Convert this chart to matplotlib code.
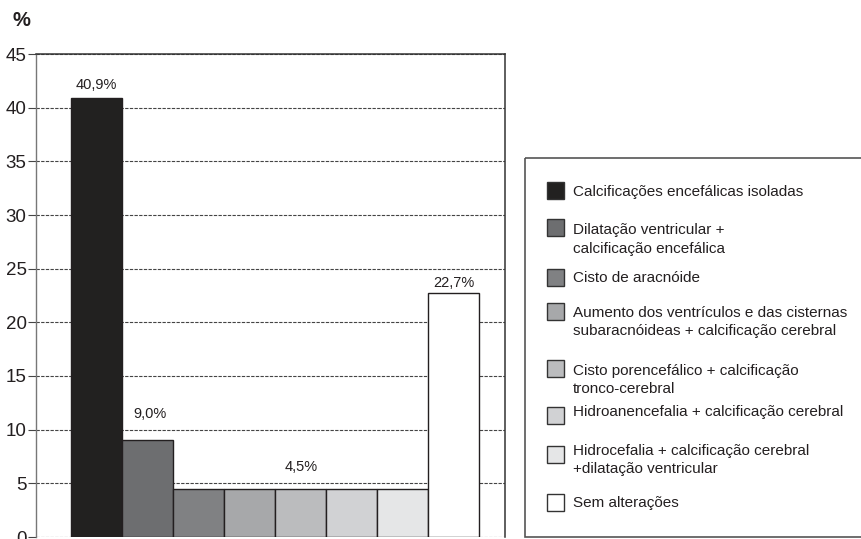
import matplotlib
matplotlib.use('Agg')
import matplotlib.pyplot as plt
from matplotlib.patches import Rectangle

plt.rcParams['font.family'] = ['Liberation Sans', 'DejaVu Sans']

# ---- data ----
categories = [
    'Calcificações encefálicas isoladas',
    'Dilatação ventricular +\ncalcificação encefálica',
    'Cisto de aracnóide',
    'Aumento dos ventrículos e das cisternas\nsubaracnóideas + calcificação cerebral',
    'Cisto porencefálico + calcificação\ntronco-cerebral',
    'Hidroanencefalia + calcificação cerebral',
    'Hidrocefalia + calcificação cerebral\n+dilatação ventricular',
    'Sem alterações',
]
values = [40.9, 9.0, 4.5, 4.5, 4.5, 4.5, 4.5, 22.7]
colors = ['#222120', '#6d6e70', '#808183', '#a7a8aa',
          '#bbbcbe', '#d1d2d4', '#e5e6e7', '#ffffff']
bar_labels = ['40,9%', '9,0%', '4,5%', '22,7%']
bar_label_idx = [0, 1, 4, 7]
yticks = [0, 5, 10, 15, 20, 25, 30, 35, 40, 45]
y_unit = '%'

# ---- layout (pixels) ----
W, H = 862, 539
TXT = '#231f20'
label_offsets_pt = [(0, 9.4), (2, 18.7), (0, 15.6), (0, 7.2)]
leg_sq_cy = [190.8, 227.5, 277.5, 311.7, 368.3, 415.0, 454.7, 502.3]
leg_txt_y = [192.3, 230.0, 278.3, 312.7, 370.7, 411.7, 450.7, 503.3]
leg_line_gap = 18.6

fig = plt.figure(figsize=(W / 100, H / 100), dpi=100)
ax_left, ax_right, ax_top, ax_bot = 36.3, 505.0, 54.0, 537.0
ax = fig.add_axes([ax_left / W, (H - ax_bot) / H,
                   (ax_right - ax_left) / W, (ax_bot - ax_top) / H])

x = list(range(len(values)))
ax.bar(x, values, width=1.0, color=colors, edgecolor=TXT,
       linewidth=1.0, zorder=3)
ax.set_xlim(-1.18, 8.0)
ax.set_ylim(0, 45)
ax.set_yticks(yticks)
ax.set_yticklabels([str(t) for t in yticks])
ax.set_xticks([])
ax.yaxis.grid(True, linestyle=(0, (3, 1.2)), linewidth=0.8, color='#444444')
ax.set_axisbelow(True)
ax.tick_params(axis='y', length=5.5, width=0.8, color='#444444', pad=1.5,
               labelsize=13.5, labelcolor=TXT)
ax.spines['bottom'].set_visible(False)
ax.spines['left'].set_color('#777777')
ax.spines['left'].set_linewidth(1.0)
for s in ('top', 'right'):
    ax.spines[s].set_color('#333333')
    ax.spines[s].set_linewidth(1.1)

for txt, i, off in zip(bar_labels, bar_label_idx, label_offsets_pt):
    ax.annotate(txt, xy=(i, values[i]), xytext=off, textcoords='offset points',
                ha='center', va='center', fontsize=10.5, color=TXT)

fig.text(21.5 / W, 1 - 20 / H, y_unit, ha='center', va='center',
         fontsize=14.5, fontweight='bold', color=TXT)

# ---- legend drawn in pixel coordinates ----
lax = fig.add_axes([0, 0, 1, 1])
lax.set_xlim(0, W)
lax.set_ylim(H, 0)
lax.axis('off')
lax.add_patch(Rectangle((525, 158), 400, 379.3, fill=False,
                        edgecolor='#555555', linewidth=1.2))
for cat, col, cy, ty in zip(categories, colors, leg_sq_cy, leg_txt_y):
    lax.add_patch(Rectangle((546.7, cy - 8.5), 17.6, 17, facecolor=col,
                            edgecolor='#333333', linewidth=1.0))
    for k, line in enumerate(cat.split('\n')):
        lax.text(573.3, ty + k * leg_line_gap, line, ha='left', va='center',
                 fontsize=11, color=TXT)

fig.savefig('out.png', dpi=100)
